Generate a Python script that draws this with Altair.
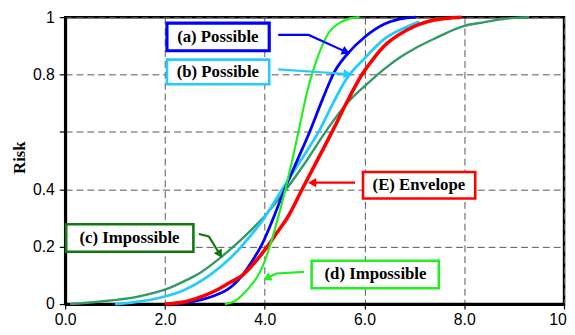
import altair as alt
import pandas as pd

# ---- curve data ----
green_x = [3.2, 3.4, 3.6, 3.75, 3.9, 4.0, 4.1, 4.25, 4.4, 4.55, 4.7, 4.85, 5.0, 5.15, 5.3, 5.5, 5.7, 5.9]
green_y = [0.0, 0.01, 0.04, 0.07, 0.11, 0.15, 0.2, 0.29, 0.39, 0.5, 0.62, 0.74, 0.83, 0.9, 0.95, 0.98, 0.995, 1.0]

blue_x = [2.2, 2.6, 3.0, 3.25, 3.55, 3.75, 3.95, 4.15, 4.4, 4.65, 4.9, 5.15, 5.4, 5.7, 6.0, 6.4, 6.7, 7.03]
blue_y = [0.0, 0.01, 0.03, 0.05, 0.1, 0.15, 0.21, 0.29, 0.4, 0.5, 0.6, 0.71, 0.81, 0.88, 0.93, 0.976, 0.993, 1.0]

cyan_x = [1.0, 1.4, 1.9, 2.4, 2.85, 3.15, 3.45, 3.7, 3.95, 4.35, 4.72, 5.08, 5.37, 5.62, 6.0, 6.4, 6.83, 7.1]
cyan_y = [0.0, 0.007, 0.022, 0.05, 0.095, 0.135, 0.185, 0.235, 0.29, 0.4, 0.5, 0.6, 0.7, 0.78, 0.856, 0.924, 0.965, 0.985]

red_x = [2.0, 2.45, 2.8, 3.05, 3.3, 3.55, 3.8, 4.05, 4.25, 4.45, 4.75, 5.05, 5.35, 5.65, 5.95, 6.2, 6.4, 6.85, 7.4, 7.95]
red_y = [0.0, 0.01, 0.03, 0.05, 0.075, 0.1, 0.145, 0.2, 0.25, 0.3, 0.4, 0.5, 0.6, 0.705, 0.8, 0.86, 0.9, 0.955, 0.99, 1.0]

teal_x = [0.1, 0.67, 1.46, 2.0, 2.45, 2.65, 3.1, 3.55, 4.0, 4.43, 4.8, 5.28, 5.65, 6.07, 6.4, 6.73, 7.0, 7.39, 8.0, 8.38, 8.84, 9.3]
teal_y = [0.0, 0.008, 0.026, 0.05, 0.085, 0.103, 0.16, 0.228, 0.307, 0.4, 0.49, 0.616, 0.7, 0.77, 0.82, 0.862, 0.89, 0.924, 0.97, 0.982, 0.995, 1.0]

x_ticks = [0, 2, 4, 6, 8, 10]
y_ticks = [0, 0.2, 0.4, 0.6, 0.8, 1.0]

# ---- annotations ----
label_texts = ["(a) Possible", "(b) Possible", "(c) Impossible", "(E) Envelope", "(d) Impossible"]
label_cols = ["#0000FF", "#22CCFF", "#117711", "#FF0000", "#22EE22"]
box_x1 = [2.04, 2.04, 0.02, 5.97, 4.94]
box_x2 = [4.09, 4.09, 2.57, 8.22, 7.49]
box_y1 = [0.883, 0.766, 0.182, 0.368, 0.055]
box_y2 = [0.979, 0.852, 0.278, 0.460, 0.151]
box_sw = [3.2, 2.6, 2.6, 2.6, 2.6]
text_x = [3.06, 3.06, 1.29, 7.09, 6.22]
text_y = [0.931, 0.809, 0.230, 0.414, 0.103]

arrow_xs = [[4.27, 4.88, 5.63], [4.27, 5.66], [2.68, 2.88, 3.10], [5.81, 4.95], [4.79, 4.23, 4.045]]
arrow_ys = [[0.938, 0.938, 0.879], [0.818, 0.802], [0.244, 0.236, 0.1735], [0.423, 0.423], [0.112, 0.1065, 0.090]]
arrow_angle = [24, 4, 59, 180, 153]

curves = [
    ("c", teal_x, teal_y, "#339966", 2.4),
    ("b", cyan_x, cyan_y, "#22CCFF", 2.8),
    ("a", blue_x, blue_y, "#0000FF", 2.8),
    ("E", red_x, red_y, "#FF0000", 3.6),
    ("d", green_x, green_y, "#22EE22", 2.2),
]

xscale = alt.Scale(domain=[0, 10], nice=False, zero=False)
yscale = alt.Scale(domain=[0, 1], nice=False, zero=False)

X = alt.X("x:Q", scale=xscale, title=None,
          axis=alt.Axis(values=x_ticks, format=".1f", tickSize=5, labelPadding=3, labelFlush=False))
Y = alt.Y("y:Q", scale=yscale, title="Risk",
          axis=alt.Axis(values=y_ticks, tickSize=6, labelPadding=5, labelFlush=False,
                        labelExpr="datum.value == 0 ? '0' : (datum.value == 1 ? '1' : (abs(datum.value - 0.6) < 0.001 ? '' : format(datum.value, '.1f')))",
                        titleFont="Liberation Serif", titleFontWeight="bold", titleFontSize=17,
                        titleColor="black", titleAngle=270, titleBaseline="bottom",
                        titleAlign="center", titleX=-37, titleY=142))

layers = []
for name, xs, ys, col, w in curves:
    df = pd.DataFrame({"x": xs, "y": ys})
    layers.append(alt.Chart(df).mark_line(color=col, strokeWidth=w, interpolate="monotone").encode(x=X, y=Y))

box_df = pd.DataFrame({"x": box_x1, "x2": box_x2, "y": box_y1, "y2": box_y2, "col": label_cols, "sw": box_sw})
layers.append(
    alt.Chart(box_df).mark_rect(fill="white").encode(
        x=X, x2="x2:Q", y=Y, y2="y2:Q",
        stroke=alt.Stroke("col:N", scale=None),
        strokeWidth=alt.StrokeWidth("sw:Q", scale=None),
    )
)

text_df = pd.DataFrame({"x": text_x, "y": text_y, "t": label_texts})
layers.append(
    alt.Chart(text_df).mark_text(font="Liberation Serif", fontWeight="bold", fontSize=17,
                                 color="black", align="center", baseline="middle").encode(
        x=X, y=Y, text="t:N")
)

rows = []
for i, (xs, ys) in enumerate(zip(arrow_xs, arrow_ys)):
    for j, (ax, ay) in enumerate(zip(xs, ys)):
        rows.append({"id": i, "idx": j, "x": ax, "y": ay, "col": label_cols[i]})
arrow_df = pd.DataFrame(rows)
layers.append(
    alt.Chart(arrow_df).mark_line(strokeWidth=2.2).encode(
        x=X, y=Y, detail="id:N", order="idx:Q",
        color=alt.Color("col:N", scale=None))
)

head_df = pd.DataFrame({
    "x": [xs[-1] for xs in arrow_xs],
    "y": [ys[-1] for ys in arrow_ys],
    "ang": arrow_angle,
    "col": label_cols,
})
layers.append(
    alt.Chart(head_df).mark_point(shape="triangle-right", filled=True, size=90, opacity=1).encode(
        x=X, y=Y,
        angle=alt.Angle("ang:Q", scale=None),
        color=alt.Color("col:N", scale=None))
)

chart = alt.layer(*layers).properties(
    width=506, height=291,
    autosize=alt.AutoSizeParams(type="none"),
    padding={"left": 58, "top": 7, "right": 3, "bottom": 22},
    background="white",
).configure_view(
    stroke="black", strokeWidth=2.5
).configure_axis(
    labelFont="Liberation Sans", labelFontSize=16, labelColor="black",
    domainColor="black", domainWidth=3, tickColor="black", tickWidth=1.2,
    grid=True, gridColor="#555555", gridDash=[7, 4], gridWidth=1, gridOpacity=1,
)

chart.save("out.html", embed_options={"renderer": "svg", "actions": False})
